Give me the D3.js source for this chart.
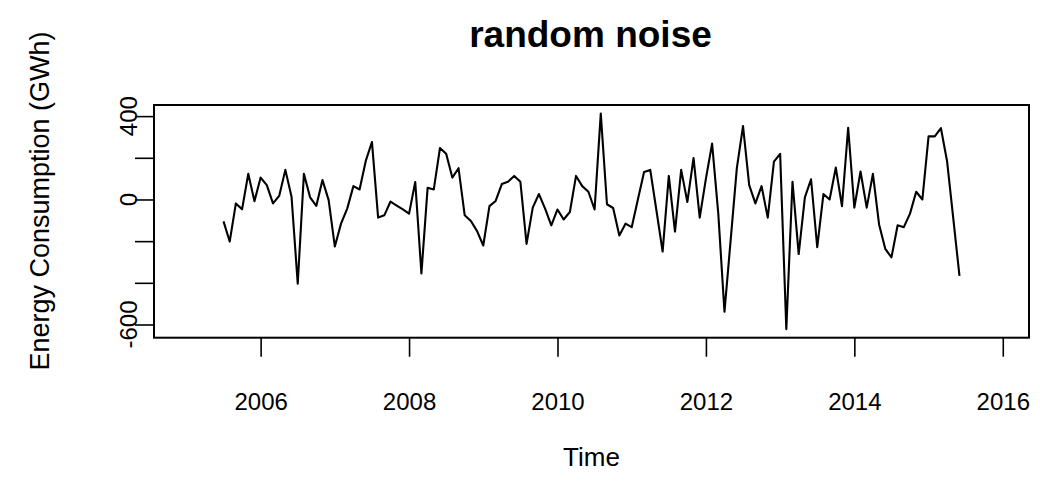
<!DOCTYPE html>
<html>
<head>
<meta charset="utf-8">
<script src="https://cdn.jsdelivr.net/npm/d3@7"></script>
<style>
  body { margin: 0; background: #fff; }
  svg { display: block; }
  text { font-family: "Liberation Sans", Arial, Helvetica, sans-serif; fill: #000; }
</style>
</head>
<body>
<svg id="chart" width="1040" height="484"></svg>
<script>
// Monthly remainder series, Jan 2005 .. Dec 2015 (first/last six months undefined)
const title = "random noise";
const xLabel = "Time";
const yLabel = "Energy Consumption (GWh)";
const startYear = 2005;
const frequency = 12;
const noise = [
  null, null, null, null, null, null,
  -105, -202, -19, -47, 123, -8,
  105, 69, -19, 17, 142, 13,
  -404, 123, 10, -31, 93, -3,
  -226, -116, -44, 64, 48, 185,
  276, -87, -76, -10, -29, -48,
  -68, 84, -355, 56, 48, 247,
  219, 105, 150, -76, -103, -152,
  -221, -32, -7, 74, 85, 113,
  85, -213, -39, 26, -44, -124,
  -48, -96, -60, 113, 64, 37,
  -48, 412, -23, -41, -173, -116,
  -133, 0, 132, 142, -53, -250,
  113, -154, 142, -12, 199, -87,
  100, 268, -68, -539, -195, 150,
  352, 69, -19, 64, -87, 182,
  219, -622, 85, -262, 10, 97,
  -229, 26, 0, 153, -32, 344,
  -39, 134, -39, 123, -120, -237,
  -278, -124, -133, -68, 37, 0,
  303, 303, 342, 182, -92, -367,
  null, null, null, null, null, null
];
const xTicks = [2006, 2008, 2010, 2012, 2014, 2016];
const yTicks = [-600, -400, -200, 0, 200, 400];
const yTickLabels = ["-600", "", "", "0", "", "400"];

const svg = d3.select("#chart");
const plot = { left: 154, right: 1029, top: 105, bottom: 337.7 };

const points = noise.map((v, i) => ({ t: startYear + i / frequency, v }));
const valid = points.filter(d => d.v !== null);

// base-graphics style 4% padding on both axes
const pad = ([a, b]) => { const e = (b - a) * 0.04; return [a - e, b + e]; };
const x = d3.scaleLinear()
  .domain(pad([points[0].t, points[points.length - 1].t]))
  .range([plot.left, plot.right]);
const y = d3.scaleLinear()
  .domain(pad(d3.extent(valid, d => d.v)))
  .range([plot.bottom, plot.top]);

const tickFont = 24;

// x axis
const gx = svg.append("g")
  .attr("transform", `translate(0,${plot.bottom})`)
  .call(d3.axisBottom(x).tickValues(xTicks).tickFormat(d3.format("d"))
    .tickSize(19).tickSizeOuter(0).tickPadding(36));
gx.select(".domain").remove();
gx.selectAll(".tick line").attr("stroke", "#000").attr("stroke-width", 1.6);
gx.selectAll(".tick text").attr("font-size", tickFont).attr("font-family", null);

// y axis
const gy = svg.append("g")
  .attr("transform", `translate(${plot.left},0)`)
  .call(d3.axisLeft(y).tickValues(yTicks).tickFormat(() => "")
    .tickSize(19).tickSizeOuter(0));
gy.select(".domain").remove();
gy.selectAll(".tick line").attr("stroke", "#000").attr("stroke-width", 1.6);
svg.append("g").selectAll("text")
  .data(yTicks.map((v, i) => ({ v, label: yTickLabels[i] })).filter(d => d.label))
  .join("text")
  .attr("transform", d => `translate(137,${y(d.v)}) rotate(-90)`)
  .attr("text-anchor", "middle")
  .attr("font-size", tickFont)
  .text(d => d.label);

// series
svg.append("path")
  .datum(points)
  .attr("fill", "none")
  .attr("stroke", "#000")
  .attr("stroke-width", 2.1)
  .attr("stroke-linejoin", "round")
  .attr("d", d3.line().defined(d => d.v !== null).x(d => x(d.t)).y(d => y(d.v)));

// frame
svg.append("rect")
  .attr("x", plot.left).attr("y", plot.top)
  .attr("width", plot.right - plot.left).attr("height", plot.bottom - plot.top)
  .attr("fill", "none").attr("stroke", "#000").attr("stroke-width", 2);

// titles
svg.append("text")
  .attr("x", (plot.left + plot.right) / 2 - 1).attr("y", 47)
  .attr("text-anchor", "middle").attr("font-weight", "bold").attr("font-size", 37)
  .text(title);
svg.append("text")
  .attr("x", (plot.left + plot.right) / 2).attr("y", 466)
  .attr("text-anchor", "middle").attr("font-size", 26)
  .text(xLabel);
svg.append("text")
  .attr("transform", `translate(49,201) rotate(-90)`)
  .attr("text-anchor", "middle").attr("font-size", 27)
  .text(yLabel);
</script>
</body>
</html>
